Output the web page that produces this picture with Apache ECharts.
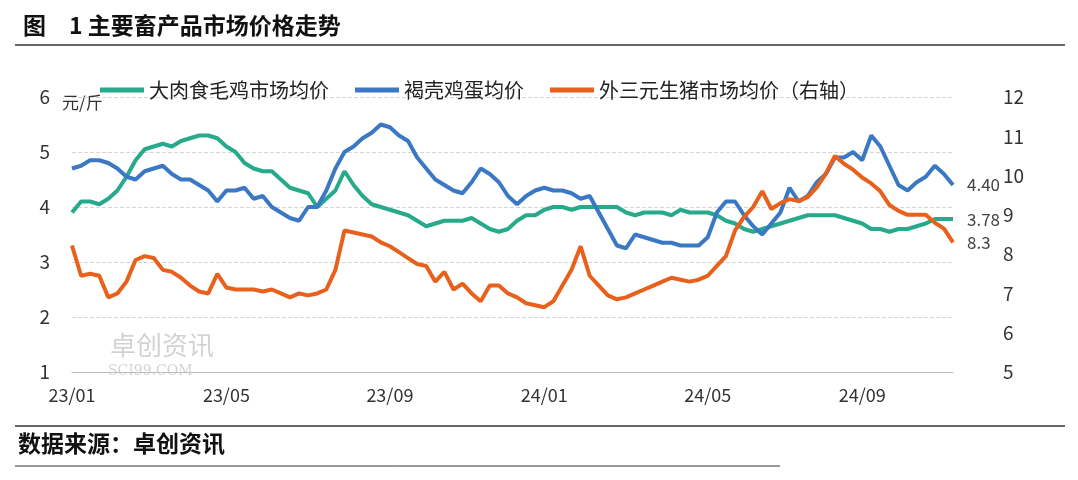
<!DOCTYPE html>
<html>
<head>
<meta charset="utf-8">
<script src="https://cdn.jsdelivr.net/npm/echarts@6/dist/echarts.min.js"></script>
<style>
  body { margin: 0; background: #fff; }
  #main { width: 1078px; height: 480px; }
</style>
</head>
<body>
<div id="main"></div>
<script>
// weekly prices
const chickenPrice = [3.9,4.1,4.1,4.05,4.15,4.3,4.55,4.85,5.05,5.1,5.15,5.1,5.2,5.25,5.3,5.3,5.25,5.1,5.0,4.8,
  4.7,4.65,4.65,4.5,4.35,4.3,4.25,4.0,4.15,4.3,4.65,4.4,4.2,4.05,4.0,3.95,3.9,3.85,3.75,3.65,
  3.7,3.75,3.75,3.75,3.8,3.7,3.6,3.55,3.6,3.75,3.85,3.85,3.95,4.0,4.0,3.95,4.0,4.0,4.0,4.0,
  4.0,3.9,3.85,3.9,3.9,3.9,3.85,3.95,3.9,3.9,3.9,3.85,3.75,3.7,3.6,3.55,3.6,3.65,3.7,3.75,
  3.8,3.85,3.85,3.85,3.85,3.8,3.75,3.7,3.6,3.6,3.55,3.6,3.6,3.65,3.7,3.78,3.78,3.78];
const eggPrice = [4.7,4.75,4.85,4.85,4.8,4.7,4.55,4.5,4.65,4.7,4.75,4.6,4.5,4.5,4.4,4.3,4.1,4.3,4.3,4.35,
  4.15,4.2,4.0,3.9,3.8,3.75,4.0,4.0,4.3,4.7,5.0,5.1,5.25,5.35,5.5,5.45,5.3,5.2,4.9,4.7,
  4.5,4.4,4.3,4.25,4.45,4.7,4.6,4.45,4.2,4.05,4.2,4.3,4.35,4.3,4.3,4.25,4.15,4.2,3.9,3.6,
  3.3,3.25,3.5,3.45,3.4,3.35,3.35,3.3,3.3,3.3,3.45,3.9,4.1,4.1,3.85,3.65,3.5,3.7,3.9,4.35,
  4.1,4.2,4.45,4.6,4.9,4.9,5.0,4.85,5.3,5.1,4.75,4.4,4.3,4.45,4.55,4.75,4.6,4.4];
const hogPrice = [8.22,7.45,7.5,7.45,6.9,7.0,7.3,7.85,7.95,7.9,7.6,7.55,7.4,7.2,7.05,7.0,7.5,7.15,7.1,7.1,
  7.1,7.05,7.1,7.0,6.9,7.0,6.95,7.0,7.1,7.6,8.6,8.55,8.5,8.45,8.3,8.2,8.05,7.9,7.75,7.7,
  7.3,7.55,7.1,7.25,7.0,6.8,7.2,7.2,7.0,6.9,6.75,6.7,6.65,6.8,7.2,7.6,8.2,7.45,7.2,6.95,
  6.85,6.9,7.0,7.1,7.2,7.3,7.4,7.35,7.3,7.35,7.45,7.7,7.95,8.6,8.95,9.2,9.6,9.15,9.3,9.4,
  9.35,9.45,9.7,10.05,10.5,10.3,10.15,9.95,9.8,9.6,9.25,9.1,9.0,9.0,9.0,8.8,8.65,8.3];
const tickMonths = ['23/01','23/05','23/09','24/01','24/05','24/09'];

// week labels starting 2023-01-02
const weeks = [];
for (let i = 0; i < chickenPrice.length; i++) {
  const d = new Date(Date.UTC(2023, 0, 2 + i * 7));
  weeks.push(String(d.getUTCFullYear()).slice(2) + '/' + String(d.getUTCMonth() + 1).padStart(2, '0') + '/' + d.getUTCDate());
}
const showTick = (i) => {
  const p = weeks[i].split('/');
  return +p[2] <= 7 && tickMonths.includes(p[0] + '/' + p[1]);
};

const font = '"Noto Sans CJK SC", "Noto Sans", sans-serif';
const chart = echarts.init(document.getElementById('main'));
const endLbl = (c) => ({
  show: true, distance: 14, color: '#444', fontSize: 17, fontFamily: font,
  formatter: (p) => c(p.value)
});
chart.setOption({
  animation: false,
  textStyle: { fontFamily: font },
  title: { text: '图　1 主要畜产品市场价格走势', left: 18, top: 9,
    textStyle: { fontSize: 23, fontWeight: 'bold', color: '#111' } },
  legend: {
    top: 75, left: 95, itemWidth: 44, itemHeight: 5, itemGap: 26, icon: 'rect',
    textStyle: { fontSize: 20, color: '#222' }
  },
  grid: { left: 72, right: 125, top: 97, bottom: 108 },
  xAxis: {
    type: 'category', data: weeks, boundaryGap: false,
    axisLine: { lineStyle: { color: '#bbb' } }, axisTick: { show: false },
    axisLabel: { interval: (i) => showTick(i), formatter: (v) => v.slice(0, 5),
      color: '#333', fontSize: 18, margin: 14 }
  },
  yAxis: [
    { type: 'value', min: 1, max: 6, interval: 1,
      axisLabel: { color: '#333', fontSize: 19, margin: 22 },
      splitLine: { lineStyle: { type: 'dashed', color: '#d5d5d5' } } },
    { type: 'value', min: 5, max: 12, interval: 1,
      axisLabel: { color: '#333', fontSize: 19, margin: 50 },
      splitLine: { show: false } }
  ],
  series: [
    { name: '大肉食毛鸡市场均价', type: 'line', data: chickenPrice, showSymbol: false,
      color: '#27a98b', lineStyle: { width: 4 }, endLabel: endLbl((v) => v.toFixed(2)) },
    { name: '褐壳鸡蛋均价', type: 'line', data: eggPrice, showSymbol: false,
      color: '#3b78c3', lineStyle: { width: 4 }, endLabel: endLbl((v) => v.toFixed(2)) },
    { name: '外三元生猪市场均价（右轴）', type: 'line', yAxisIndex: 1, data: hogPrice, showSymbol: false,
      color: '#e8611c', lineStyle: { width: 4 }, endLabel: endLbl((v) => v.toFixed(1)) }
  ],
  graphic: [
    { type: 'text', left: 62, top: 94, style: { text: '元/斤', fontSize: 17, fill: '#333', fontFamily: font } },
    { type: 'line', shape: { x1: 15, y1: 45, x2: 1065, y2: 45 }, style: { stroke: '#333', lineWidth: 1.5 } },
    { type: 'line', shape: { x1: 15, y1: 426, x2: 1065, y2: 426 }, style: { stroke: '#333', lineWidth: 1.5 } },
    { type: 'line', shape: { x1: 15, y1: 466, x2: 780, y2: 466 }, style: { stroke: '#333', lineWidth: 1 } },
    { type: 'text', left: 18, top: 432, style: { text: '数据来源：卓创资讯', fontSize: 23, fontWeight: 'bold', fill: '#111', fontFamily: font } },
    { type: 'text', left: 110, top: 332, style: { text: '卓创资讯', fontSize: 26, fill: 'rgba(0,0,0,0.18)', fontFamily: font } },
    { type: 'text', left: 108, top: 364, style: { text: 'SCI99.COM', fontSize: 14, fill: 'rgba(0,0,0,0.18)', fontFamily: 'DejaVu Serif' } }
  ]
});
</script>
</body>
</html>
